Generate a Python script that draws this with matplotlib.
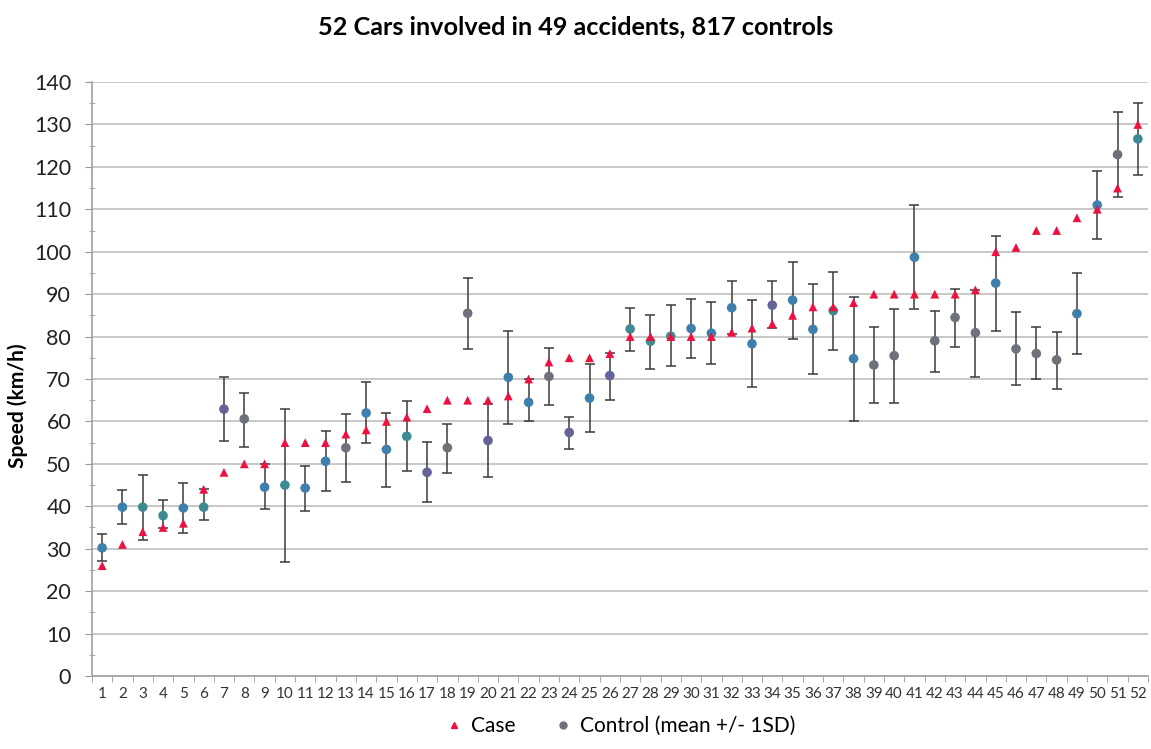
#!/usr/bin/env python3
"""
Case vs control speeds for 52 cars involved in accidents.

Output: out.png
"""

import matplotlib.pyplot as plt
from matplotlib.lines import Line2D
from matplotlib.ticker import MultipleLocator
import numpy as np

plt.rcParams["font.family"] = ["Lato", "DejaVu Sans"]

CARS = list(range(1, 53))
CASE_SPEED = [26, 31, 34, 35, 36, 44, 48, 50, 50, 55,
              55, 55, 57, 58, 60, 61, 63, 65, 65, 65,
              66, 70, 74, 75, 75, 76, 80, 80, 80, 80,
              80, 81, 82, 83, 85, 87, 87, 88, 90, 90,
              90, 90, 90, 91, 100, 101, 105, 105, 108, 110,
              115, 130]
CONTROL_MEAN = [30.2, 39.8, 39.8, 37.8, 39.6, 39.8, 62.9, 60.6, 44.5, 45.0,
                44.3, 50.6, 53.8, 62.0, 53.4, 56.5, 48.0, 53.8, 85.5, 55.5,
                70.4, 64.5, 70.6, 57.4, 65.5, 70.8, 81.8, 78.9, 80.1, 81.9,
                80.8, 86.8, 78.3, 87.4, 88.6, 81.7, 86.1, 74.8, 73.3, 75.5,
                98.7, 79.0, 84.5, 80.9, 92.6, 77.1, 76.0, 74.5, 85.4, 111.0,
                122.9, 126.6]
CONTROL_LOW = [27.0, 35.9, 32.0, 34.8, 33.7, 36.7, 55.5, 54.0, 39.4, 26.9,
               39.0, 43.5, 45.7, 55.0, 44.5, 48.3, 40.9, 47.9, 77.0, 46.8,
               59.3, 60.0, 63.9, 53.5, 57.6, 65.0, 76.7, 72.4, 73.0, 75.0,
               73.5, 80.6, 68.0, 82.0, 79.4, 71.1, 76.8, 60.2, 64.4, 64.3,
               86.4, 71.6, 77.6, 70.5, 81.2, 68.6, 69.9, 67.6, 75.8, 102.9,
               112.8, 118.0]
CONTROL_HIGH = [33.5, 43.8, 47.3, 41.5, 45.4, 44.0, 70.4, 66.8, 50.0, 63.0,
                49.6, 57.8, 61.8, 69.2, 61.9, 64.8, 55.1, 59.3, 93.7, 64.2,
                81.3, 70.0, 77.3, 61.1, 73.5, 76.1, 86.8, 85.1, 87.4, 88.9,
                88.1, 93.2, 88.6, 93.0, 97.6, 92.3, 95.2, 89.3, 82.2, 86.6,
                110.9, 86.1, 91.1, 91.0, 103.8, 85.8, 82.2, 81.0, 95.0, 119.1,
                132.9, 135.0]

# Excel varied the control marker colour point by point
BLUE, TEAL, GREY, PURPLE = "#3f7fab", "#3d8a92", "#6d717c", "#62649a"
CONTROL_COLORS = [BLUE, BLUE, TEAL, TEAL, BLUE, TEAL, PURPLE, GREY, BLUE, TEAL,
                  BLUE, BLUE, GREY, BLUE, BLUE, TEAL, PURPLE, GREY, GREY, PURPLE,
                  BLUE, BLUE, GREY, PURPLE, BLUE, PURPLE, TEAL, TEAL, TEAL, BLUE,
                  BLUE, BLUE, BLUE, PURPLE, BLUE, BLUE, TEAL, BLUE, GREY, GREY,
                  BLUE, GREY, GREY, GREY, BLUE, GREY, GREY, GREY, BLUE, BLUE,
                  GREY, TEAL]
CASE_COLOR = "#ee1140"


def plot():
    x = np.array(CARS)
    mean = np.array(CONTROL_MEAN)
    yerr = [mean - np.array(CONTROL_LOW), np.array(CONTROL_HIGH) - mean]

    fig = plt.figure(figsize=(11.51, 7.49), dpi=100)
    ax = fig.add_axes([0.0799, 0.0975, 0.9175, 0.793])

    ax.errorbar(x, mean, yerr=yerr, fmt="none", ecolor="#3a3a3a",
                elinewidth=1.1, capsize=3.5, capthick=1.1, zorder=2)
    ax.scatter(x, mean, s=48, c=CONTROL_COLORS, marker="o",
               edgecolors="none", zorder=3)
    ax.scatter(x, CASE_SPEED, s=40, c=CASE_COLOR, marker="^",
               edgecolors="none", zorder=4)

    ax.set_xlim(0.5, 52.5)
    ax.set_ylim(0, 140)
    ax.yaxis.set_major_locator(MultipleLocator(10))
    ax.yaxis.set_minor_locator(MultipleLocator(5))
    ax.grid(axis="y", which="major", color="#c4c4c4", linewidth=1.3)
    ax.set_axisbelow(True)

    ax.set_xticks(x)
    ax.set_xticklabels([str(c) for c in CARS], fontsize=11, color="#333333")
    ax.set_xticks(np.arange(0.5, 53, 1), minor=True)
    ax.tick_params(axis="x", which="major", length=0, pad=8)
    ax.tick_params(axis="x", which="minor", length=4, color="#999999",
                   direction="out")
    ax.tick_params(axis="y", which="major", length=5, color="#999999",
                   labelsize=15.5, labelcolor="#222222", pad=10)
    ax.tick_params(axis="y", which="minor", length=5, color="#999999",
                   direction="inout")

    for side in ("top", "right"):
        ax.spines[side].set_visible(False)
    for side in ("left", "bottom"):
        ax.spines[side].set_color("#a0a0a0")
        ax.spines[side].set_linewidth(1.2)

    ax.set_ylabel("Speed (km/h)", fontsize=15, fontweight="bold")
    ax.yaxis.set_label_coords(-0.061, 0.455)
    fig.suptitle("52 Cars involved in 49 accidents, 817 controls",
                 fontsize=18.2, fontweight="bold", y=0.98)

    handles = [
        Line2D([], [], linestyle="none", marker="^", markersize=5,
               color=CASE_COLOR, label="Case"),
        Line2D([], [], linestyle="none", marker="o", markersize=5,
               color=GREY, label="Control (mean +/- 1SD)"),
    ]
    fig.legend(handles=handles, loc="lower center", bbox_to_anchor=(0.54, -0.008),
               ncol=2, frameon=False, fontsize=15, handlelength=0.6,
               handletextpad=0.5, columnspacing=2.0)

    fig.savefig("out.png", dpi=100)


if __name__ == "__main__":
    plot()
